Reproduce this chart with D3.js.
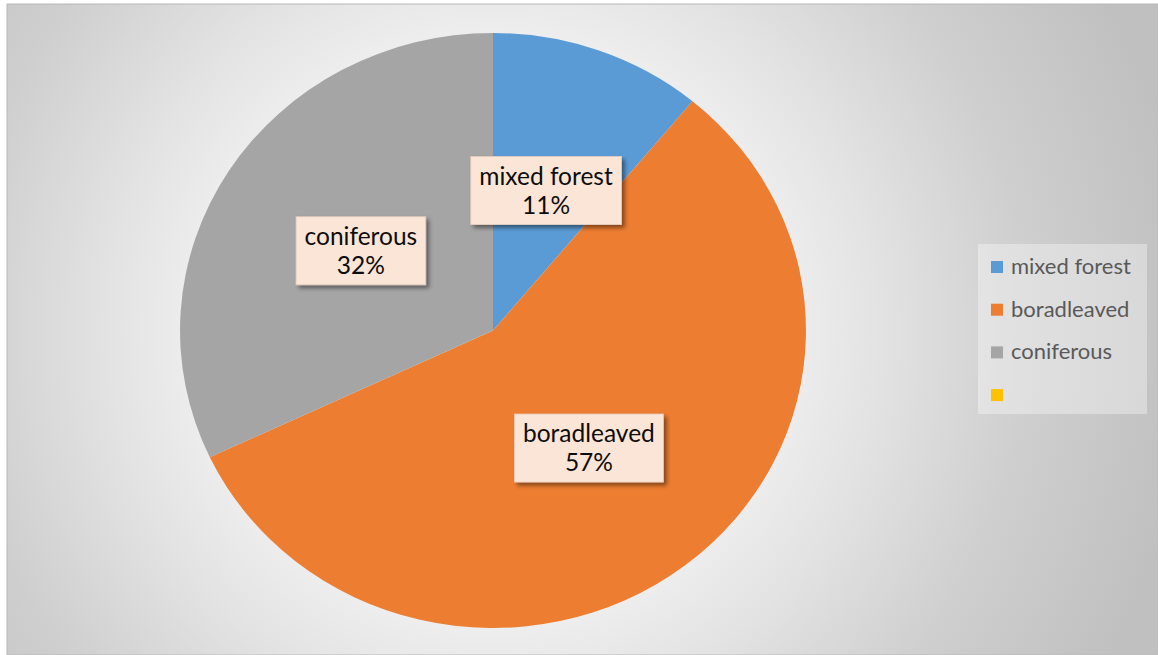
<!DOCTYPE html>
<html>
<head>
<meta charset="utf-8">
<script src="https://cdn.jsdelivr.net/npm/d3@7"></script>
<style>
  html, body { margin: 0; padding: 0; background: #ffffff; }
  svg { display: block; }
  text { font-family: Lato, "Open Sans", sans-serif; }
</style>
</head>
<body>
<svg id="chart" width="1158" height="655"></svg>
<script>
// Forest type shares (%)
const categories = ["mixed forest", "boradleaved", "coniferous", ""];
const shares = [11, 57, 32, 0];
const sliceColors = ["#5B9BD5", "#ED7D31", "#A5A5A5", "#FFC000"];

const W = 1158, H = 655;
const frame = { x: 7, y: 4, w: W - 7, h: H - 4 };
const center = { x: 493, y: 330.5 };
const radius = 297.5;
const stretchX = 1.052;   // plot area is slightly wider than tall

const svg = d3.select("#chart");
const defs = svg.append("defs");

// Background radial gradient of the chart area
const bg = defs.append("radialGradient")
  .attr("id", "bgGrad")
  .attr("gradientUnits", "userSpaceOnUse")
  .attr("cx", center.x).attr("cy", center.y)
  .attr("r", 700);
[[0, "#ffffff"], [0.34, "#f5f5f5"], [0.55, "#e3e3e3"], [0.76, "#cfcfcf"], [1, "#c0c0c0"]]
  .forEach(([o, c]) => bg.append("stop").attr("offset", o).attr("stop-color", c));

// Drop shadow for the data label boxes
const sh = defs.append("filter").attr("id", "lblShadow")
  .attr("x", "-20%").attr("y", "-20%").attr("width", "150%").attr("height", "160%");
sh.append("feDropShadow")
  .attr("dx", 3).attr("dy", 3).attr("stdDeviation", 2.2)
  .attr("flood-color", "#000").attr("flood-opacity", 0.45);

// Chart area
svg.append("rect")
  .attr("x", frame.x).attr("y", frame.y)
  .attr("width", frame.w).attr("height", frame.h)
  .attr("fill", "url(#bgGrad)")
  .attr("stroke", "#b8b8b8").attr("stroke-width", 1);

const data = categories.map((name, i) => ({ name, value: shares[i], color: sliceColors[i] }));

const pie = d3.pie().sort(null).value(d => d.value);
const arcs = pie(data);
const arc = d3.arc().innerRadius(0).outerRadius(radius);

const pieG = svg.append("g")
  .attr("transform", `translate(${center.x},${center.y}) scale(${stretchX},1)`);

pieG.selectAll("path.slice")
  .data(arcs.filter(a => a.data.value > 0))
  .join("path")
  .attr("class", "slice")
  .attr("d", arc)
  .attr("fill", d => d.data.color);

// Data labels: category name + percentage in a boxed callout at the slice centroid
const labelFont = 24.5;
const lblG = svg.append("g")
  .attr("transform", `translate(${center.x},${center.y})`);

const total = d3.sum(shares);
arcs.filter(a => a.data.value > 0).forEach(a => {
  const [cx0, cy0] = arc.centroid(a);
  const cx = cx0 * stretchX, cy = cy0;
  const g = lblG.append("g").attr("transform", `translate(${cx},${cy})`);
  const box = g.append("rect");
  const t = g.append("text")
    .attr("text-anchor", "middle")
    .attr("fill", "#0d0d0d")
    .style("font-size", labelFont + "px");
  t.append("tspan").attr("x", 0).attr("y", -6).text(a.data.name);
  t.append("tspan").attr("x", 0).attr("y", 23)
    .text(Math.round(a.data.value / total * 100) + "%");
  const bb = t.node().getBBox();
  const padX = 8.5;
  box.attr("x", bb.x - padX).attr("y", -34)
    .attr("width", bb.width + 2 * padX).attr("height", 68)
    .attr("fill", "#FBE5D6")
    .attr("stroke", "#e6cfc0").attr("stroke-width", 0.8)
    .attr("filter", "url(#lblShadow)");
});

// Legend
const legend = { x: 978, y: 244, w: 169, h: 170, rowStart: 267, rowStep: 42.7 };
svg.append("rect")
  .attr("x", legend.x).attr("y", legend.y)
  .attr("width", legend.w).attr("height", legend.h)
  .attr("fill", "#ffffff").attr("fill-opacity", 0.35);

const rows = svg.append("g").selectAll("g.row")
  .data(data)
  .join("g")
  .attr("class", "row")
  .attr("transform", (d, i) => `translate(${legend.x + 13},${legend.rowStart + i * legend.rowStep})`);

rows.append("rect")
  .attr("x", 0).attr("y", -6)
  .attr("width", 12).attr("height", 12)
  .attr("fill", d => d.color);

rows.append("text")
  .attr("x", 20).attr("y", 7)
  .attr("fill", "#595959")
  .style("font-size", "22px")
  .text(d => d.name);
</script>
</body>
</html>
